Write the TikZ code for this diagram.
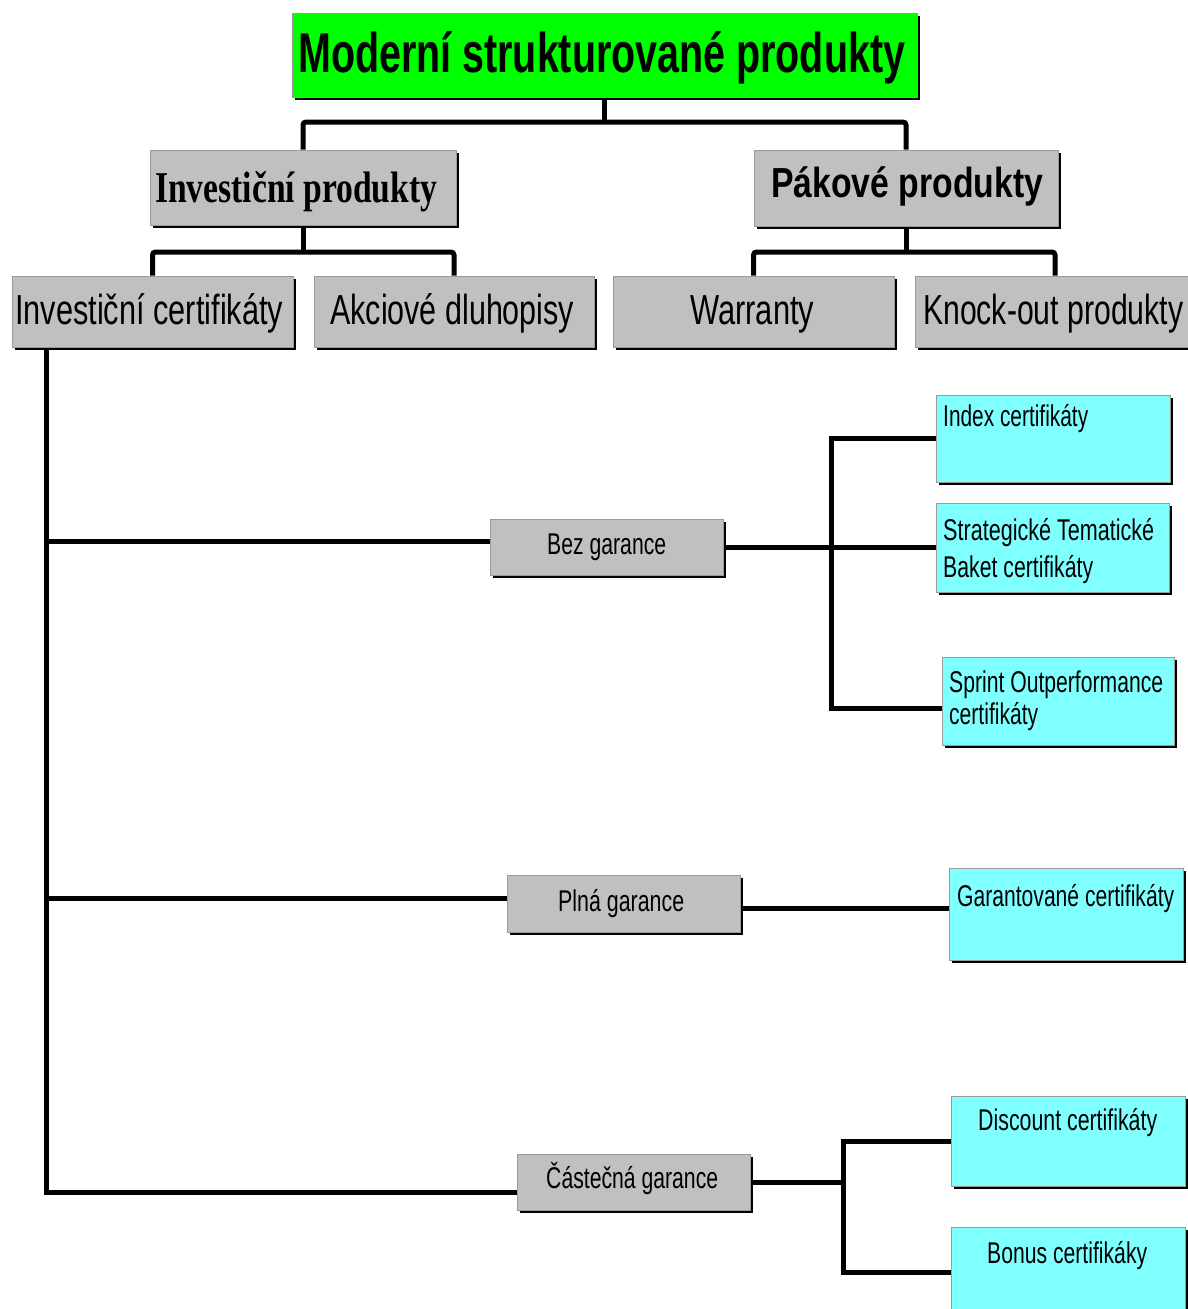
\documentclass[tikz,border=0pt]{standalone}
\usepackage{fontspec}
\usepackage{graphicx}
\setmainfont{Liberation Sans}
\newfontfamily\serifbf{Liberation Serif}
\usetikzlibrary{shadows,calc}
\definecolor{boxgray}{HTML}{C0C0C0}
\definecolor{titlegreen}{HTML}{00FF00}
\definecolor{cyanbox}{HTML}{80FFFF}
\definecolor{edgegray}{HTML}{9A9A9A}
\newcommand\sqz[2]{\resizebox{#1pt}{\height}{#2}}
\begin{document}
\begin{tikzpicture}[x=1pt,y=-1pt,
  box/.style={draw=edgegray, line width=1pt, inner sep=0pt,
    drop shadow={shadow xshift=3pt,shadow yshift=-3pt,fill=black,opacity=1}},
  gbox/.style={box, fill=boxgray},
  tbox/.style={box, fill=titlegreen},
  cbox/.style={box, fill=cyanbox},
  conn/.style={line width=5pt, rounded corners=3pt},
  lbl/.style={inner sep=0pt, anchor=base west, text=black},
  big/.style={lbl, font=\fontsize{42}{42}\selectfont},
  small/.style={lbl, font=\fontsize{30}{30}\selectfont},
]
\useasboundingbox (0,0) rectangle (1187,1309);
\fill[white] (0,0) rectangle (1187,1309);

% boxes
\node[tbox, minimum width=625pt, minimum height=84pt] (title) at (604.5,55) {};
\node[gbox, minimum width=306pt, minimum height=75pt] (inv) at (303,187.5) {};
\node[gbox, minimum width=304pt, minimum height=76pt] (pak) at (906,188) {};
\node[gbox, minimum width=281pt, minimum height=71pt] (ic) at (152.5,311.5) {};
\node[gbox, minimum width=280pt, minimum height=71pt] (ad) at (454,311.5) {};
\node[gbox, minimum width=281pt, minimum height=71pt] (wa) at (753.5,311.5) {};
\node[gbox, minimum width=280pt, minimum height=71pt] (ko) at (1055,311.5) {};
\node[gbox, minimum width=233pt, minimum height=56pt] (bg) at (606.5,547) {};
\node[gbox, minimum width=233pt, minimum height=57pt] (pg) at (623.5,903.5) {};
\node[gbox, minimum width=233pt, minimum height=56pt] (cg) at (633.5,1182) {};
\node[cbox, minimum width=234pt, minimum height=87pt] (idx) at (1053,438.5) {};
\node[cbox, minimum width=233pt, minimum height=89pt] (stb) at (1052.5,547.5) {};
\node[cbox, minimum width=232pt, minimum height=88pt] (spr) at (1058,701) {};
\node[cbox, minimum width=234pt, minimum height=92pt] (gar) at (1066,914) {};
\node[cbox, minimum width=234pt, minimum height=90pt] (dis) at (1068,1141) {};
\node[cbox, minimum width=234pt, minimum height=90pt] (bon) at (1068,1272) {};

% texts
\node[lbl, font=\bfseries\fontsize{56}{56}\selectfont] (titlet) at (298,72) {\sqz{607}{Moderní strukturované produkty}};
\node[lbl, font=\serifbf\bfseries\fontsize{44}{44}\selectfont] (invt) at (155,202) {\sqz{282}{Investiční produkty}};
\node[big, font=\bfseries\fontsize{42}{42}\selectfont] (pakt) at (771,197) {\sqz{272}{Pákové produkty}};
\node[big] (ict) at (15,324) {\sqz{268}{Investiční certifikáty}};
\node[big] (adt) at (330,324) {\sqz{244}{Akciové dluhopisy}};
\node[big] (wat) at (690,324) {\sqz{124}{Warranty}};
\node[big] (kot) at (923,324) {\sqz{260}{Knock-out produkty}};
\node[small] (bgt) at (547,554) {\sqz{119}{Bez garance}};
\node[small] (pgt) at (558,911) {\sqz{126}{Plná garance}};
\node[small] (cgt) at (546,1188) {\sqz{172}{Částečná garance}};
\node[small] (idxt) at (943,426) {\sqz{145}{Index certifikáty}};
\node[small] (stbt1) at (943,540) {\sqz{211}{Strategické Tematické}};
\node[small] (stbt2) at (943,577) {\sqz{150}{Baket certifikáty}};
\node[small] (sprt1) at (949,692) {\sqz{214}{Sprint Outperformance}};
\node[small] (sprt2) at (949,724) {\sqz{89}{certifikáty}};
\node[small] (gart) at (957,906) {\sqz{217}{Garantované certifikáty}};
\node[small] (dist) at (978,1130) {\sqz{179}{Discount certifikáty}};
\node[small] (bont) at (987,1263) {\sqz{160}{Bonus certifikáky}};

% helper coordinates
\coordinate (h1) at (0,122);
\coordinate (h2) at (0,252);
\coordinate (vx) at (46,0);
\coordinate (ybg) at (0,541);
\coordinate (ypg) at (0,898);
\coordinate (ycg) at (0,1192);
\coordinate (bx) at (831,0);
\coordinate (ysp) at (0,708);
\coordinate (ygr) at (0,908);
\coordinate (cx) at (843,0);

% connectors
\draw[conn] (title.south) -- (title.south |- h1);
\draw[conn] (inv.north) -- (inv.north |- h1) -- (pak.north |- h1) -- (pak.north);
\draw[conn] (inv.south) -- (inv.south |- h2);
\draw[conn] (ic.north) -- (ic.north |- h2) -- (ad.north |- h2) -- (ad.north);
\draw[conn] (pak.south) -- (pak.south |- h2);
\draw[conn] (wa.north) -- (wa.north |- h2) -- (ko.north |- h2) -- (ko.north);

\draw[conn, rounded corners=0pt] (ic.south -| vx) -- (vx |- ycg) -- (cg.west |- ycg);
\draw[conn] (vx |- ybg) -- (bg.west |- ybg);
\draw[conn] (vx |- ypg) -- (pg.west |- ypg);

\draw[conn] (bg.east) -- (stb.west |- bg.east);
\draw[conn, rounded corners=0pt] (idx.west) -- (idx.west -| bx) -- (bx |- ysp) -- (spr.west |- ysp);
\draw[conn] (pg.east |- ygr) -- (gar.west |- ygr);
\draw[conn] (cg.east) -- (cg.east -| cx);
\draw[conn, rounded corners=0pt] (dis.west) -- (dis.west -| cx) -- (cx |- bon.west) -- (bon.west);
\end{tikzpicture}
\end{document}
